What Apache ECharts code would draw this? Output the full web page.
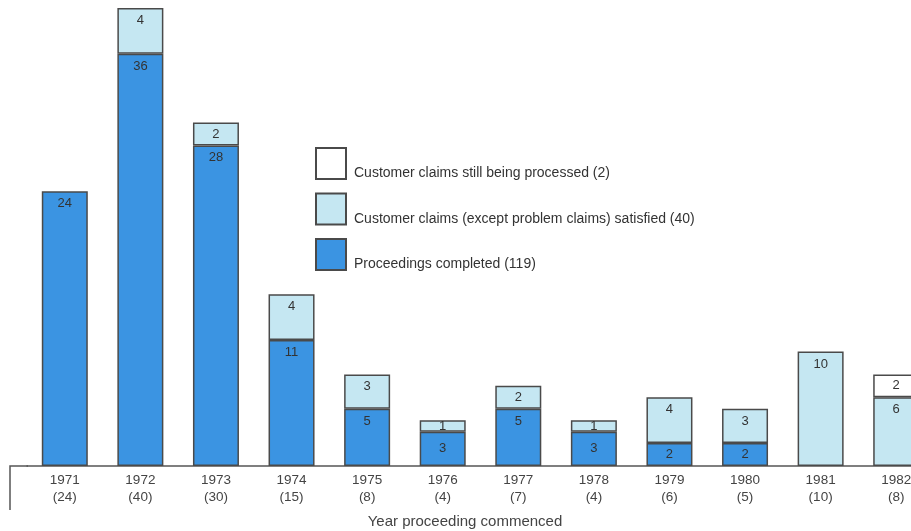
<!DOCTYPE html>
<html>
<head>
<meta charset="utf-8">
<script src="https://cdn.jsdelivr.net/npm/echarts@6/dist/echarts.min.js"></script>
<style>html,body{margin:0;padding:0;background:#fff}#c{width:911px;height:531px}</style>
</head>
<body>
<div id="c"></div>
<script>
var years = ['1971','1972','1973','1974','1975','1976','1977','1978','1979','1980','1981','1982'];
var completed = [24, 36, 28, 11, 5, 3, 5, 3, 2, 2, 0, 0];
var satisfied = [0, 4, 2, 4, 3, 1, 2, 1, 4, 3, 10, 6];
var processing = [0, 0, 0, 0, 0, 0, 0, 0, 0, 0, 0, 2];
var seriesNames = ['Customer claims still being processed (2)', 'Customer claims (except problem claims) satisfied (40)', 'Proceedings completed (119)'];
var xTitle = 'Year proceeding commenced';

var totals = years.map(function(_, i){ return completed[i] + satisfied[i] + processing[i]; });
var FONT = '"Liberation Sans", Arial, sans-serif';

function build(arr, smallMax){
  return arr.map(function(v){
    if (v === 0) return '-';
    return {value:v, label:{position: v <= smallMax ? 'inside' : 'insideTop'}};
  });
}

var chart = echarts.init(document.getElementById('c'), null, {renderer:'canvas'});
var border = {borderColor:'#4a4a4a', borderWidth:1.5};
var lbl = {show:true, position:'insideTop', distance:6, fontSize:13, color:'#333', fontFamily:FONT};

chart.setOption({
  animation:false,
  backgroundColor:'#fff',
  grid:{left:27, width:907, top:8, bottom:65, containLabel:false, outerBoundsMode:'none'},
  title:{text:xTitle, left:460, top:509, textAlign:'center',
    textStyle:{fontSize:15, fontWeight:'normal', color:'#444', fontFamily:FONT}},
  legend:{
    orient:'vertical', left:310, top:142, itemWidth:30, itemHeight:31, itemGap:12,
    icon:'rect',
    data:seriesNames,
    formatter:function(n){ return '{t|' + n + '}'; },
    textStyle:{fontSize:14, color:'#333', fontFamily:FONT,
      rich:{t:{fontSize:14, color:'#333', fontFamily:FONT, padding:[20,0,0,3]}}}
  },
  xAxis:{
    type:'category', data:years,
    axisLine:{show:true, lineStyle:{color:'#555', width:1.5}},
    axisTick:{show:false},
    axisLabel:{interval:0, margin:6, fontSize:13.5, lineHeight:17, color:'#444', fontFamily:FONT,
      formatter:function(v, i){ return v + '\n(' + totals[i] + ')'; }}
  },
  yAxis:{type:'value', min:0, max:40, show:false, splitLine:{show:false}},
  graphic:[{type:'polyline', silent:true, shape:{points:[[10,510],[10,466],[28,466]]},
    style:{stroke:'#555', lineWidth:1.5, fill:null}}],
  series:[
    {name:seriesNames[2], type:'bar', stack:'a', barWidth:46, data:build(completed, 3),
      itemStyle:Object.assign({color:'#3b94e2'}, border), label:lbl},
    {name:seriesNames[1], type:'bar', stack:'a', barWidth:46, data:build(satisfied, 2),
      itemStyle:Object.assign({color:'#c5e7f2'}, border), label:lbl},
    {name:seriesNames[0], type:'bar', stack:'a', barWidth:46, data:build(processing, 2),
      itemStyle:Object.assign({color:'#ffffff'}, border), label:lbl}
  ]
});
</script>
</body>
</html>
